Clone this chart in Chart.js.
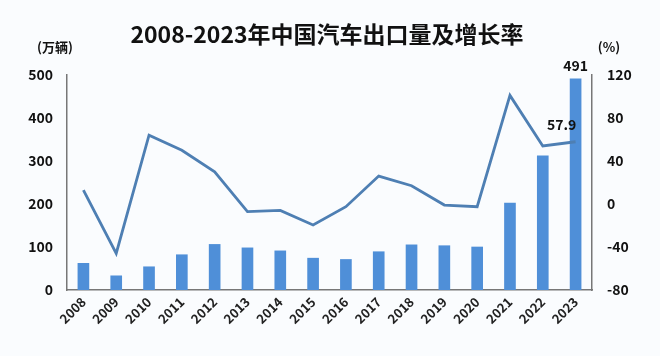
<!DOCTYPE html>
<html>
<head>
<meta charset="utf-8">
<script src="https://cdn.jsdelivr.net/npm/chart.js@4/dist/chart.umd.min.js"></script>
<style>
html,body{margin:0;padding:0;background:#fafcfe;}
#wrap{width:660px;height:356px;position:relative;}
</style>
</head>
<body>
<div id="wrap"><canvas id="c" width="660" height="356"></canvas></div>
<script>
const years = ['2008','2009','2010','2011','2012','2013','2014','2015','2016','2017','2018','2019','2020','2021','2022','2023'];
const exportVolume = [62, 33, 54, 82, 106, 98, 91, 74, 71, 89, 105, 103, 100, 202, 312, 491];
const growthRate = [13, -46, 64, 50, 30, -7, -6, -19.5, -2.5, 26, 17, -1, -2.5, 101, 54, 57.9];
const leftTicks = [0, 100, 200, 300, 400, 500];
const rightTicks = [-80, -40, 0, 40, 80, 120];

const FONT = "'Noto Sans CJK SC', 'Noto Sans', sans-serif";

const overlay = {
  id: 'overlay',
  afterDraw(chart) {
    const ctx = chart.ctx;
    ctx.save();
    ctx.fillStyle = '#111';
    ctx.textAlign = 'center';
    ctx.textBaseline = 'middle';
    ctx.font = "bold 23px " + FONT;
    ctx.fillText('2008-2023年中国汽车出口量及增长率', 327, 34);
    ctx.font = "bold 13px " + FONT;
    ctx.fillText('(万辆)', 55, 47);
    ctx.fillText('(%)', 609, 47);
    const barMeta = chart.getDatasetMeta(0);
    const lineMeta = chart.getDatasetMeta(1);
    const last = exportVolume.length - 1;
    const b = barMeta.data[last];
    ctx.font = "bold 14px " + FONT;
    ctx.textBaseline = 'bottom';
    ctx.fillText(String(exportVolume[last]), b.x, b.y - 6);
    const p = lineMeta.data[last];
    ctx.fillText(String(growthRate[last]), p.x - 14, p.y - 10);
    ctx.restore();
  }
};

new Chart(document.getElementById('c'), {
  data: {
    labels: years,
    datasets: [
      {
        type: 'bar',
        data: exportVolume,
        yAxisID: 'y',
        backgroundColor: '#4f8fd8',
        barThickness: 11,
        order: 2
      },
      {
        type: 'line',
        data: growthRate,
        yAxisID: 'y1',
        borderColor: '#4e7fb3',
        borderWidth: 2.8,
        pointRadius: 0,
        tension: 0,
        order: 1
      }
    ]
  },
  options: {
    responsive: false,
    animation: false,
    layout: { padding: { top: 75, left: 0, right: 0, bottom: 0 } },
    plugins: { legend: { display: false }, tooltip: { enabled: false } },
    scales: {
      x: {
        offset: true,
        grid: { display: false, drawTicks: false },
        border: { display: true, color: '#777', width: 1.5 },
        ticks: {
          color: '#222',
          font: { family: FONT, size: 13, weight: 'bold' },
          maxRotation: 45, minRotation: 45,
          padding: 4
        },
        afterFit(s) { s.height = 66; }
      },
      y: {
        position: 'left',
        min: 0, max: 500,
        afterBuildTicks(s) { s.ticks = leftTicks.map(v => ({ value: v })); },
        grid: { display: false, drawTicks: false },
        border: { display: true, color: '#777', width: 1.5 },
        ticks: {
          color: '#111',
          font: { family: FONT, size: 14, weight: 'bold' },
          padding: 14
        },
        afterFit(s) { s.width = 67; }
      },
      y1: {
        position: 'right',
        min: -80, max: 120,
        afterBuildTicks(s) { s.ticks = rightTicks.map(v => ({ value: v })); },
        grid: { display: false, drawTicks: false },
        border: { display: true, color: '#777', width: 1.5 },
        ticks: {
          color: '#111',
          font: { family: FONT, size: 14, weight: 'bold' },
          padding: 15
        },
        afterFit(s) { s.width = 68; }
      }
    }
  },
  plugins: [overlay]
});
</script>
</body>
</html>
